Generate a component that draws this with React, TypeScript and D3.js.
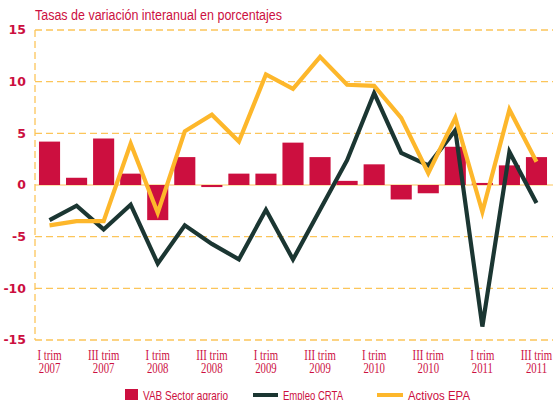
import React from 'react';
import * as d3 from 'd3';

// trimestres, I 2007 .. III 2011
const quarters = [
  'I-2007', 'II-2007', 'III-2007', 'IV-2007',
  'I-2008', 'II-2008', 'III-2008', 'IV-2008',
  'I-2009', 'II-2009', 'III-2009', 'IV-2009',
  'I-2010', 'II-2010', 'III-2010', 'IV-2010',
  'I-2011', 'II-2011', 'III-2011',
];

const vabSector = [4.2, 0.7, 4.5, 1.1, -3.4, 2.7, -0.2, 1.1, 1.1, 4.1, 2.7, 0.4, 2.0, -1.4, -0.8, 3.7, 0.2, 1.9, 2.7];
const empleoCRTA = [-3.4, -2.0, -4.3, -1.9, -7.6, -3.9, -5.7, -7.2, -2.4, -7.2, -2.4, 2.4, 8.9, 3.1, 1.9, 5.3, -13.7, 3.2, -1.75];
const activosEPA = [-3.9, -3.5, -3.5, 4.0, -2.7, 5.2, 6.8, 4.2, 10.7, 9.3, 12.4, 9.7, 9.6, 6.5, 1.15, 6.5, -2.6, 7.3, 2.25];

const yTicks = [-15, -10, -5, 0, 5, 10, 15];
const xTickQuarters = ['I-2007', 'III-2007', 'I-2008', 'III-2008', 'I-2009', 'III-2009', 'I-2010', 'III-2010', 'I-2011', 'III-2011'];

const RED = '#cc0f3f';
const DARK = '#1b3632';
const YELLOW = '#fdb72b';
const GRID = '#fcc55a';

export default function App() {
  const width = 554;
  const height = 400;

  const x = d3.scaleBand()
    .domain(quarters)
    .range([36, 550])
    .paddingInner(0.22)
    .paddingOuter(0.11);

  const y = d3.scaleLinear().domain([-15, 15]).range([340, 30]);

  const cx = (q: string) => (x(q) as number) + x.bandwidth() / 2;

  const line = d3.line<number>()
    .x((_, i) => cx(quarters[i]))
    .y(d => y(d));

  return (
    <svg width={width} height={height} style={{ position: 'absolute', left: 0, top: 0 }}>
      <rect width={width} height={height} fill="#fff" />

      <text x={35} y={20} fill={RED} fontFamily="Liberation Sans, Arial, sans-serif" fontSize={14}
        textLength={247} lengthAdjust="spacingAndGlyphs">
        Tasas de variación interanual en porcentajes
      </text>

      {/* rejilla */}
      {yTicks.filter(t => t !== 0).map(t => (
        <line key={t} x1={35} x2={553} y1={y(t)} y2={y(t)} stroke={GRID}
          strokeWidth={1.3} strokeDasharray="7,4" />
      ))}
      <line x1={35} x2={35} y1={y(15)} y2={y(-15)} stroke={GRID} strokeWidth={1.3} strokeDasharray="7,4" />
      <line x1={35} x2={553} y1={y(0)} y2={y(0)} stroke={GRID} strokeWidth={1.2} />

      {yTicks.map(t => (
        <text key={t} x={26} y={y(t)} dy="0.35em" textAnchor="end" fill={RED}
          fontFamily="DejaVu Sans, Verdana, sans-serif" fontWeight="bold" fontSize={12.5}>
          {t}
        </text>
      ))}

      {vabSector.map((v, i) => (
        <rect key={i} x={x(quarters[i])} width={x.bandwidth()}
          y={y(Math.max(0, v))} height={Math.abs(y(v) - y(0))} fill={RED} />
      ))}

      <path d={line(empleoCRTA) || ''} fill="none" stroke={DARK} strokeWidth={4.2} strokeLinejoin="miter" />
      <path d={line(activosEPA) || ''} fill="none" stroke={YELLOW} strokeWidth={4.2} strokeLinejoin="miter" />

      {xTickQuarters.map(q => {
        const [trim, year] = q.split('-');
        const px = cx(q);
        return (
          <g key={q} transform={`translate(${px},0) scale(0.77,1)`} fill={RED}
            fontFamily="Liberation Serif, Times New Roman, serif" fontSize={14} textAnchor="middle">
            <text x={0} y={360.5}>{trim} trim</text>
            <text x={0} y={373.5}>{year}</text>
          </g>
        );
      })}

      {/* leyenda */}
      <g fontFamily="Liberation Sans, Arial, sans-serif" fontSize={13} fill={RED}>
        <rect x={125} y={389} width={13} height={13} fill={RED} />
        <text x={143} y={400} textLength={85} lengthAdjust="spacingAndGlyphs">VAB Sector agrario</text>
        <line x1={253} x2={278} y1={395} y2={395} stroke={DARK} strokeWidth={4} />
        <text x={283} y={400} textLength={60} lengthAdjust="spacingAndGlyphs">Empleo CRTA</text>
        <line x1={377} x2={403} y1={395} y2={395} stroke={YELLOW} strokeWidth={4} />
        <text x={408} y={400} textLength={62} lengthAdjust="spacingAndGlyphs">Activos EPA</text>
      </g>
    </svg>
  );
}
